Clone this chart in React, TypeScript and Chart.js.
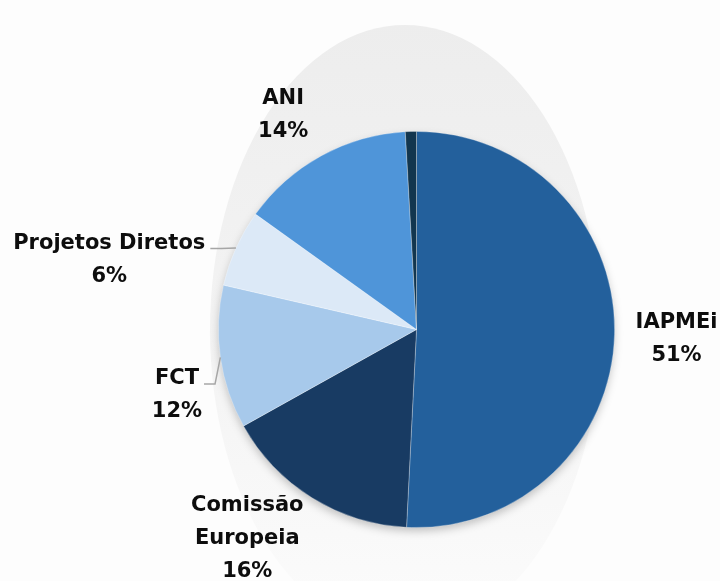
import React, { useEffect, useRef } from "react";
import { Chart, registerables } from "chart.js";

Chart.register(...registerables);

const categories = ["IAPMEi", "Comissão Europeia", "FCT", "Projetos Diretos", "ANI", "Outros"];
const shares = [50.8, 16.1, 11.7, 6.3, 14.2, 0.9];
const sliceColors = ["#23609C", "#183B63", "#A7C9EB", "#DCE9F7", "#4F95D9", "#12364F"];
const labelLines = [["IAPMEi"], ["Comissão", "Europeia"], ["FCT"], ["Projetos Diretos"], ["ANI"], []];
const showLabel = [true, true, true, true, true, false];
const hasLeader = [false, false, true, true, false, false];
// manual label nudges (px) relative to the default outside position
const labelNudge = [[2, 1], [-33, -12], [16, 27], [-72, 34], [-9, 9], [0, 0]];

const FONT_SIZE = 21;
const LINE_H = 33;
const CAP_H = 15.5;

const backgroundPlugin = {
  id: "bgShape",
  beforeDraw(chart: any) {
    const ctx = chart.ctx;
    ctx.save();
    ctx.fillStyle = "#fdfdfd";
    ctx.fillRect(0, 0, chart.width, chart.height);
    const g = ctx.createLinearGradient(0, 20, 0, 600);
    g.addColorStop(0, "#ededed");
    g.addColorStop(0.6, "#f4f4f4");
    g.addColorStop(1, "#fbfbfb");
    ctx.fillStyle = g;
    ctx.beginPath();
    ctx.ellipse(405, 330, 195, 305, 0, 0, Math.PI * 2);
    ctx.fill();
    ctx.restore();
  },
  beforeDatasetsDraw(chart: any) {
    const meta = chart.getDatasetMeta(0);
    const arc = meta.data[0];
    if (!arc) return;
    const { x, y, outerRadius } = arc.getProps(["x", "y", "outerRadius"], true);
    const ctx = chart.ctx;
    ctx.save();
    ctx.shadowColor = "rgba(0,0,0,0.25)";
    ctx.shadowBlur = 10;
    ctx.shadowOffsetY = 4;
    ctx.fillStyle = "#ffffff";
    ctx.beginPath();
    ctx.arc(x, y, outerRadius - 1, 0, Math.PI * 2);
    ctx.fill();
    ctx.restore();
  },
};

const labelPlugin = {
  id: "outLabels",
  afterDatasetsDraw(chart: any) {
    const ctx = chart.ctx;
    const meta = chart.getDatasetMeta(0);
    const total = shares.reduce((a, b) => a + b, 0);
    ctx.save();
    ctx.font = `700 ${FONT_SIZE}px "DejaVu Sans", sans-serif`;
    ctx.fillStyle = "#0d0d0d";
    ctx.textAlign = "center";
    ctx.textBaseline = "alphabetic";
    meta.data.forEach((arc: any, i: number) => {
      if (!showLabel[i]) return;
      const { x, y, startAngle, endAngle, outerRadius } = arc.getProps(
        ["x", "y", "startAngle", "endAngle", "outerRadius"],
        true
      );
      const mid = (startAngle + endAngle) / 2;
      const dx = Math.cos(mid);
      const dy = Math.sin(mid);
      const cx = x + dx * (outerRadius + 60) + labelNudge[i][0];
      const cy = y + dy * (outerRadius + 60) + labelNudge[i][1];
      const pct = Math.round((shares[i] / total) * 100) + "%";
      const lines = [...labelLines[i], pct];
      const blockH = CAP_H + (lines.length - 1) * LINE_H;
      const firstBase = cy - blockH / 2 + CAP_H;
      lines.forEach((t, k) => ctx.fillText(t, cx, firstBase + k * LINE_H));
      if (hasLeader[i]) {
        const w = ctx.measureText(lines[0]).width;
        const right = cx + w / 2;
        const ly = firstBase;
        ctx.save();
        ctx.strokeStyle = "#a6a6a6";
        ctx.lineWidth = 1.5;
        ctx.beginPath();
        ctx.moveTo(x + dx * outerRadius, y + dy * outerRadius);
        ctx.lineTo(right + 16, ly);
        ctx.lineTo(right + 5, ly);
        ctx.stroke();
        ctx.restore();
      }
    });
    ctx.restore();
  },
};

export default function App() {
  const ref = useRef<HTMLCanvasElement | null>(null);
  useEffect(() => {
    document.body.style.margin = "0";
    if (!ref.current) return;
    const chart = new Chart(ref.current, {
      type: "pie",
      data: {
        labels: categories,
        datasets: [
          {
            data: shares,
            backgroundColor: sliceColors,
            borderColor: "rgba(255,255,255,0.35)",
            borderWidth: 0.8,
          },
        ],
      },
      options: {
        responsive: false,
        animation: false,
        layout: { padding: { left: 218, right: 105, top: 131, bottom: 53 } },
        plugins: {
          legend: { display: false },
          tooltip: { enabled: false },
          title: { display: false },
        },
      },
      plugins: [backgroundPlugin, labelPlugin],
    });
    return () => chart.destroy();
  }, []);
  return (
    <div style={{ width: 720, height: 581 }}>
      <canvas ref={ref} width={720} height={581} style={{ display: "block" }} />
    </div>
  );
}
